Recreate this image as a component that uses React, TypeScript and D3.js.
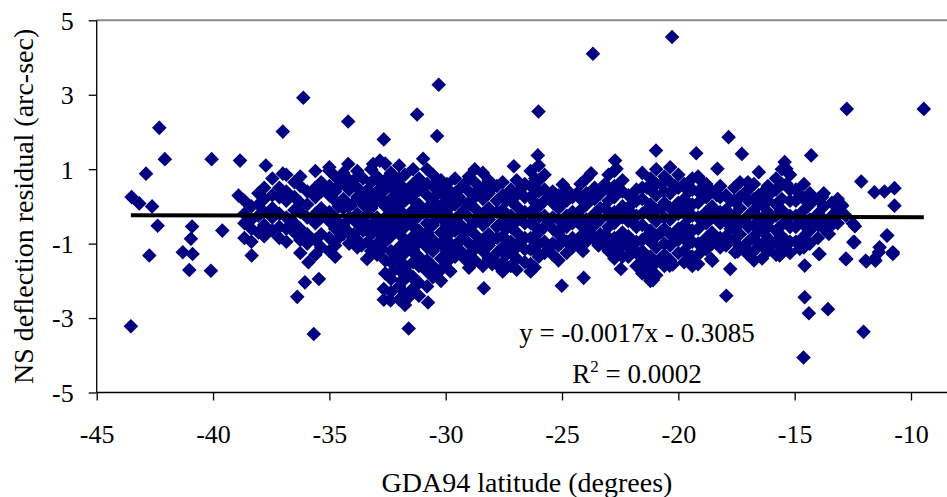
import React, { useRef, useEffect } from "react";
import * as d3 from "d3";

// axis ticks
const xTicks = [-45, -40, -35, -30, -25, -20, -15, -10];
const yTicks = [-5, -3, -1, 1, 3, 5];

// linear trend shown on the chart
const trendSlope = -0.0017;
const trendIntercept = -0.3085;

// isolated points: [latitude, residual]
const outliers: [number, number][] = [
  [-43.5, 0.25], [-43.17, 0.08], [-42.62, 0.0], [-42.88, 0.88], [-42.31, 2.11],
  [-42.07, 1.27], [-40.06, 1.27], [-42.38, -0.52], [-40.9, -0.54], [-40.95, -0.87],
  [-39.6, -0.65], [-41.3, -1.23], [-40.88, -1.28], [-42.74, -1.32], [-41.02, -1.71],
  [-40.09, -1.73], [-43.53, -3.22], [-38.84, 1.23], [-38.9, 0.29], [-37.73, 1.1],
  [-37.0, 2.01], [-36.12, 2.92], [-37.0, 0.88], [-38.34, -1.32], [-35.9, -1.5],
  [-36.05, -2.04], [-36.38, -2.43], [-35.67, -3.43], [-35.45, -1.95],
  [-34.19, 2.28], [-32.66, 1.8], [-34.19, 1.14], [-33.38, -1.41], [-33.62, -1.05],
  [-32.66, -2.22], [-32.66, -2.51], [-30.3, 3.27], [-31.23, 2.47], [-30.37, 1.89],
  [-30.97, 1.28], [-27.07, 1.08], [-28.36, -2.2], [-30.76, -2.58], [-31.59, -3.28],
  [-29.8, -1.74], [-32.37, -2.53], [-23.67, 4.1], [-26.01, 2.55], [-26.04, 1.37],
  [-20.96, 1.5], [-22.72, 1.23], [-23.75, 0.89], [-24.97, 0.59], [-25.01, -2.13],
  [-24.07, -1.92], [-22.47, -1.68], [-21.53, -1.46], [-21.1, -1.95], [-25.15, -1.45],
  [-26.18, -1.64], [-23.43, -1.05], [-24.1, -1.2], [-32.83, 1.23], [-33.12, 1.14],
  [-35.0, 0.96], [-22.66, 1.01], [-20.27, 4.55], [-12.76, 2.62], [-9.45, 2.62],
  [-17.84, 1.86], [-19.23, 1.43], [-17.27, 1.41], [-14.29, 1.37], [-18.32, 1.01],
  [-16.54, 0.92], [-15.43, 1.19], [-15.36, 1.01], [-12.14, 0.67], [-11.57, 0.38],
  [-11.14, 0.4], [-10.71, 0.49], [-10.71, 0.02], [-17.01, 0.65], [-18.96, 0.65],
  [-13.0, 0.05], [-12.5, -0.46], [-11.04, -0.78], [-11.35, -1.1], [-12.43, -0.96],
  [-17.94, -2.4], [-17.77, -1.68], [-14.57, -1.59], [-14.57, -2.44], [-14.39, -2.87],
  [-13.57, -2.76], [-12.04, -3.37], [-14.62, -4.06], [-21.09, -1.98], [-20.37, -1.59],
  [-15.65, -1.32], [-12.78, -1.41], [-11.92, -1.48], [-11.57, -1.41], [-10.78, -1.28],
  [-13.93, -1.28], [-18.59, -1.41], [-17.56, -1.23], [-17.45, -1.21], [-15.63, -1.3],
  [-14.78, -1.14], [-20.24, -1.56], [-18.54, -1.46], [-13.82, 0.25], [-12.96, 0.02],
  [-12.41, -0.53], [-11.02, -0.78], [-12.48, -0.96], [-10.78, -1.23], [-11.38, -1.23],
  [-11.95, -1.46], [-11.53, -1.46], [-12.81, -1.41], [-13.96, -1.28], [-13.53, -0.74],
];

// dense band, read column by column: [latitude, residuals]
const westColumns: [number, number[]][] = [
  [-38.65, [0.15, -0.2, -0.45, -0.85]],
  [-38.35, [0.0, -0.35, -0.6, -0.95]],
  [-38.05, [0.35, 0.05, -0.25, -0.7]],
  [-37.8, [0.5, 0.2, -0.15, -0.5, -0.8]],
  [-37.45, [0.75, 0.3, -0.05, -0.3, -0.65]],
  [-37.15, [0.5, 0.25, -0.2, -0.55, -0.85]],
  [-36.85, [0.85, 0.4, 0.15, -0.3, -0.6, -0.95]],
  [-36.5, [0.65, 0.25, -0.1, -0.45, -0.7]],
  [-36.25, [0.8, 0.55, 0.1, -0.15, -0.6, -0.9, -1.25]],
  [-35.95, [0.4, 0.05, -0.3, -0.75, -1.0]],
  [-35.6, [0.95, 0.5, 0.25, -0.2, -0.45, -0.9, -1.3]],
  [-35.35, [0.65, 0.4, -0.05, -0.3, -0.75, -1.1]],
  [-35.0, [1.05, 0.55, 0.3, -0.15, -0.4, -0.85, -1.2]],
  [-34.75, [0.8, 0.4, 0.15, -0.3, -0.6, -1.05, -1.35]],
  [-34.4, [0.9, 0.65, 0.2, -0.05, -0.5, -0.75]],
  [-34.15, [0.7, 0.45, 0.0, -0.3, -0.7, -1.0]],
  [-33.8, [0.95, 0.5, 0.25, -0.2, -0.45, -0.9, -1.1]],
  [-33.55, [0.75, 0.3, 0.05, -0.4, -0.65]],
  [-33.2, [1.0, 0.65, 0.2, -0.05, -0.5, -0.75, -1.2]],
  [-32.95, [0.8, 0.4, 0.15, -0.3, -0.55, -1.0, -1.3]],
];

const centralColumns: [number, number[]][] = [
  [-32.6, [1.15, 0.7, 0.45, 0.0, -0.3, -0.7, -0.95, -1.45, -1.8]],
  [-32.35, [0.9, 0.6, 0.2, -0.1, -0.5, -0.8, -1.2, -1.5, -1.95, -2.3]],
  [-32.0, [1.1, 0.75, 0.35, 0.05, -0.35, -0.65, -1.1, -1.4, -1.7, -2.15, -2.5]],
  [-31.75, [0.85, 0.45, 0.15, -0.25, -0.55, -0.95, -1.25, -1.65, -1.95, -2.35, -2.65]],
  [-31.4, [1.0, 0.6, 0.3, -0.1, -0.4, -0.8, -1.15, -1.5, -1.9, -2.2]],
  [-31.15, [0.75, 0.45, 0.05, -0.25, -0.65, -0.95, -1.35, -1.6, -2.05, -2.4]],
  [-30.8, [1.0, 0.6, 0.3, -0.05, -0.45, -0.7, -1.1, -1.45, -1.75, -2.15]],
  [-30.55, [0.85, 0.55, 0.15, -0.15, -0.5, -0.9, -1.2, -1.6, -1.9]],
  [-30.2, [0.7, 0.4, 0.0, -0.3, -0.7, -1.0, -1.4, -1.7, -2.0]],
  [-29.95, [0.6, 0.2, -0.1, -0.5, -0.8, -1.2, -1.5]],
  [-29.6, [0.75, 0.35, 0.05, -0.35, -0.65, -1.05, -1.35]],
  [-29.35, [0.5, 0.2, -0.2, -0.5, -0.9, -1.2]],
  [-29.0, [0.8, 0.4, 0.1, -0.3, -0.6, -1.0, -1.3, -1.65]],
  [-28.75, [1.0, 0.65, 0.25, -0.05, -0.45, -0.75, -1.15, -1.45]],
  [-28.4, [0.9, 0.5, 0.2, -0.2, -0.5, -0.9, -1.2, -1.6]],
  [-28.15, [0.7, 0.35, -0.05, -0.35, -0.75, -1.05, -1.4]],
  [-27.8, [0.55, 0.15, -0.15, -0.55, -0.85, -1.25, -1.55]],
  [-27.55, [0.65, 0.3, -0.1, -0.4, -0.8, -1.1, -1.5, -1.75]],
  [-27.2, [0.45, 0.15, -0.25, -0.55, -0.95, -1.25, -1.6]],
  [-26.95, [0.7, 0.3, 0.0, -0.4, -0.7, -1.1, -1.4, -1.7]],
  [-26.6, [0.6, 0.25, -0.15, -0.45, -0.85, -1.15, -1.5]],
  [-26.35, [0.95, 0.55, 0.25, -0.15, -0.45, -0.85, -1.15, -1.55, -1.75]],
  [-26.0, [1.1, 0.7, 0.4, 0.0, -0.3, -0.7, -1.0, -1.35]],
];

const eastColumns: [number, number[]][] = [
  [-25.75, [0.85, 0.45, 0.15, -0.25, -0.55, -0.95, -1.25]],
  [-25.4, [0.4, 0.1, -0.3, -0.6, -1.0, -1.3]],
  [-25.15, [0.3, -0.05, -0.35, -0.75, -1.05]],
  [-24.8, [0.45, 0.15, -0.25, -0.55, -0.95, -1.25]],
  [-24.55, [0.25, -0.15, -0.45, -0.85, -1.1]],
  [-24.2, [0.6, 0.2, -0.1, -0.5, -0.8, -1.05]],
  [-23.95, [0.75, 0.35, 0.05, -0.35, -0.65, -0.95]],
  [-23.6, [0.5, 0.2, -0.2, -0.5, -0.9]],
  [-23.35, [0.35, -0.05, -0.35, -0.75, -0.95]],
  [-23.0, [0.85, 0.45, 0.15, -0.25, -0.55, -0.95, -1.2]],
  [-22.75, [0.95, 0.55, 0.25, -0.15, -0.45, -0.85, -1.15, -1.4]],
  [-22.4, [0.7, 0.4, 0.0, -0.3, -0.7, -1.0, -1.35]],
  [-22.15, [0.3, -0.1, -0.4, -0.8, -1.1, -1.35]],
  [-21.8, [0.45, 0.15, -0.25, -0.55, -0.95, -1.25, -1.6]],
  [-21.55, [0.9, 0.5, 0.2, -0.2, -0.5, -0.9, -1.2, -1.6, -1.8]],
  [-21.2, [0.75, 0.45, 0.05, -0.25, -0.65, -0.95, -1.35, -1.65, -2.0]],
  [-20.95, [1.0, 0.6, 0.3, -0.1, -0.4, -0.8, -1.1, -1.5, -1.85]],
  [-20.6, [0.8, 0.4, 0.1, -0.3, -0.6, -1.0, -1.3, -1.6]],
  [-20.35, [1.05, 0.65, 0.35, -0.05, -0.35, -0.75, -1.05, -1.45]],
  [-20.0, [0.85, 0.5, 0.1, -0.2, -0.6, -0.9, -1.25]],
  [-19.75, [0.6, 0.2, -0.1, -0.5, -0.8, -1.2, -1.5]],
  [-19.4, [0.75, 0.45, 0.05, -0.25, -0.65, -0.95, -1.35, -1.6]],
  [-19.15, [0.8, 0.4, 0.1, -0.3, -0.6, -1.0, -1.3, -1.55]],
  [-18.8, [0.6, 0.25, -0.15, -0.45, -0.85, -1.15]],
  [-18.55, [0.4, 0.0, -0.3, -0.7, -1.0]],
  [-18.2, [0.55, 0.25, -0.15, -0.45, -0.85, -1.1]],
  [-17.95, [0.3, -0.1, -0.4, -0.8, -1.05]],
  [-17.6, [0.5, 0.15, -0.25, -0.55, -0.9]],
  [-17.35, [0.65, 0.25, -0.05, -0.45, -0.75, -1.1]],
  [-17.0, [0.45, 0.15, -0.25, -0.55, -0.95, -1.3]],
  [-16.75, [0.6, 0.2, -0.1, -0.5, -0.8, -1.2, -1.45]],
  [-16.4, [0.35, 0.05, -0.35, -0.65, -1.05, -1.4]],
  [-16.15, [0.55, 0.15, -0.15, -0.55, -0.85, -1.2]],
  [-15.8, [0.75, 0.45, 0.05, -0.25, -0.65, -0.95, -1.3]],
  [-15.55, [1.0, 0.6, 0.2, -0.1, -0.5, -0.8, -1.1]],
  [-15.2, [0.85, 0.45, 0.15, -0.25, -0.55, -0.95, -1.25]],
  [-14.95, [0.45, 0.15, -0.25, -0.55, -0.95]],
  [-14.6, [0.6, 0.2, -0.1, -0.5, -0.8, -1.1]],
  [-14.35, [0.35, 0.05, -0.35, -0.65, -1.0]],
  [-14.0, [0.2, -0.2, -0.5, -0.85]],
  [-13.75, [0.35, 0.0, -0.35, -0.6]],
  [-13.4, [0.1, -0.25, -0.5]],
  [-13.15, [0.2, -0.1, -0.45]],
  [-12.8, [-0.25]],
];

// extra points packed inside the densest part of the band
const coreColumns: [number, number[]][] = [
  [-34.6, [0.55, 0.0, -0.45, -0.85]],
  [-33.95, [0.7, 0.1, -0.35, -0.75]],
  [-33.35, [0.45, -0.2, -0.6, -0.95]],
  [-32.75, [0.6, 0.2, -0.45, -0.8, -1.15]],
  [-32.2, [0.45, -0.25, -0.65, -1.3, -1.7]],
  [-31.9, [0.55, -0.15, -0.8, -1.5, -2.0]],
  [-31.6, [0.4, -0.4, -1.05, -1.8, -2.45]],
  [-31.3, [0.1, -0.6, -1.3, -2.0]],
  [-30.95, [0.55, -0.15, -0.85, -1.6]],
  [-30.4, [0.3, -0.35, -1.05, -1.75]],
  [-29.8, [0.4, -0.3, -1.0]],
  [-29.2, [0.6, -0.1, -0.75, -1.4]],
  [-28.6, [0.45, -0.25, -0.95]],
  [-28.0, [0.5, -0.2, -0.9, -1.55]],
  [-27.4, [0.15, -0.6, -1.3]],
  [-26.8, [0.45, -0.25, -0.95]],
  [-26.15, [0.75, 0.1, -0.55, -1.2]],
  [-25.55, [0.3, -0.4, -1.1]],
  [-24.95, [0.1, -0.55, -0.9]],
  [-24.35, [0.35, -0.3, -0.95]],
  [-23.75, [0.2, -0.4, -0.75]],
  [-23.15, [0.6, -0.05, -0.75, -1.05]],
  [-22.55, [0.45, -0.2, -0.9, -1.25]],
  [-21.95, [0.1, -0.45, -1.15]],
  [-21.35, [0.5, -0.1, -0.8, -1.5, -1.85]],
  [-20.75, [0.6, -0.05, -0.7, -1.4]],
  [-20.15, [0.55, -0.15, -0.8]],
  [-19.55, [0.4, -0.3, -1.0]],
  [-18.95, [0.35, -0.35, -1.05]],
  [-18.35, [0.3, -0.3, -0.9]],
  [-17.75, [0.15, -0.6]],
  [-17.15, [0.35, -0.4, -1.1]],
  [-16.55, [0.3, -0.3, -1.0]],
  [-15.95, [0.4, -0.3, -1.0]],
  [-15.35, [0.6, -0.4, -1.05]],
  [-14.75, [0.3, -0.4]],
];

const App = () => {
  const chartRef = useRef<SVGSVGElement>(null);

  useEffect(() => {
    const width = 947;
    const height = 497;
    const font = "'Liberation Serif', 'Times New Roman', serif";

    const svg = d3.select(chartRef.current);
    svg.selectAll("*").remove();

    const xScale = d3.scaleLinear().domain([-45, -10]).range([96.7, 911]);
    const yScale = d3.scaleLinear().domain([-5, 5]).range([392.5, 20.3]);

    const points: [number, number][] = [
      ...outliers,
      ...[...westColumns, ...centralColumns, ...eastColumns, ...coreColumns].flatMap(
        ([lat, res]) => res.map((r) => [lat, r] as [number, number])
      ),
    ];

    // plot frame: grey top edge
    svg
      .append("line")
      .attr("x1", xScale(-45))
      .attr("x2", width)
      .attr("y1", yScale(5))
      .attr("y2", yScale(5))
      .attr("stroke", "#8a8a8a")
      .attr("stroke-width", 2);

    // diamonds
    const r = 7.3;
    const diamond = `M0,${-r}L${r},0L0,${r}L${-r},0Z`;
    svg
      .append("g")
      .selectAll("path")
      .data(points)
      .enter()
      .append("path")
      .attr("d", diamond)
      .attr("transform", (d) => `translate(${xScale(d[0])},${yScale(d[1])})`)
      .attr("fill", "#000080");

    // trend line over the data range
    const [lo, hi] = d3.extent(points, (d) => d[0]) as [number, number];
    svg
      .append("line")
      .attr("x1", xScale(lo))
      .attr("x2", xScale(hi))
      .attr("y1", yScale(trendSlope * lo + trendIntercept))
      .attr("y2", yScale(trendSlope * hi + trendIntercept))
      .attr("stroke", "#000")
      .attr("stroke-width", 4);

    // axes
    const yAxis = svg
      .append("g")
      .attr("transform", `translate(${xScale(-45)},0)`)
      .call(
        d3
          .axisLeft(yScale)
          .tickValues(yTicks)
          .tickSize(8)
          .tickSizeOuter(0)
          .tickPadding(15)
          .tickFormat((d) => String(d))
      );
    yAxis.select(".domain").remove();
    yAxis.selectAll("text").attr("font-family", font).attr("font-size", 26).attr("dy", "0.34em");
    yAxis.selectAll("line").attr("stroke-width", 1.3);

    const xAxis = svg
      .append("g")
      .attr("transform", `translate(0,${yScale(-5)})`)
      .call(
        d3
          .axisBottom(xScale)
          .tickValues(xTicks)
          .tickSize(8)
          .tickSizeOuter(0)
          .tickPadding(24)
          .tickFormat((d) => String(d))
      );
    xAxis.select(".domain").remove();
    xAxis.selectAll("text").attr("font-family", font).attr("font-size", 26);
    xAxis.selectAll("line").attr("stroke-width", 1.3);

    svg
      .append("line")
      .attr("x1", xScale(-45))
      .attr("x2", xScale(-45))
      .attr("y1", yScale(5))
      .attr("y2", yScale(-5))
      .attr("stroke", "#000")
      .attr("stroke-width", 1.3);
    svg
      .append("line")
      .attr("x1", xScale(-45))
      .attr("x2", width)
      .attr("y1", yScale(-5))
      .attr("y2", yScale(-5))
      .attr("stroke", "#000")
      .attr("stroke-width", 1.3);

    // titles
    svg
      .append("text")
      .attr("x", 527)
      .attr("y", 492)
      .attr("text-anchor", "middle")
      .attr("font-family", font)
      .attr("font-size", 28)
      .text("GDA94 latitude (degrees)");

    svg
      .append("text")
      .attr("transform", `translate(33,${(yScale(5) + yScale(-5)) / 2}) rotate(-90)`)
      .attr("text-anchor", "middle")
      .attr("font-family", font)
      .attr("font-size", 28)
      .text("NS deflection residual (arc-sec)");

    // trend equation
    svg
      .append("text")
      .attr("x", 637)
      .attr("y", 342)
      .attr("text-anchor", "middle")
      .attr("font-family", font)
      .attr("font-size", 27)
      .text("y = -0.0017x - 0.3085");

    const r2 = svg
      .append("text")
      .attr("x", 637)
      .attr("y", 383)
      .attr("text-anchor", "middle")
      .attr("font-family", font)
      .attr("font-size", 27);
    r2.append("tspan").text("R");
    r2.append("tspan").attr("font-size", 17).attr("dy", -11).text("2");
    r2.append("tspan").attr("dy", 11).text(" = 0.0002");

    svg.attr("width", width).attr("height", height);
  }, []);

  return (
    <svg
      ref={chartRef}
      width={947}
      height={497}
      style={{ position: "absolute", left: 0, top: 0, background: "#fff" }}
    ></svg>
  );
};

export default App;
